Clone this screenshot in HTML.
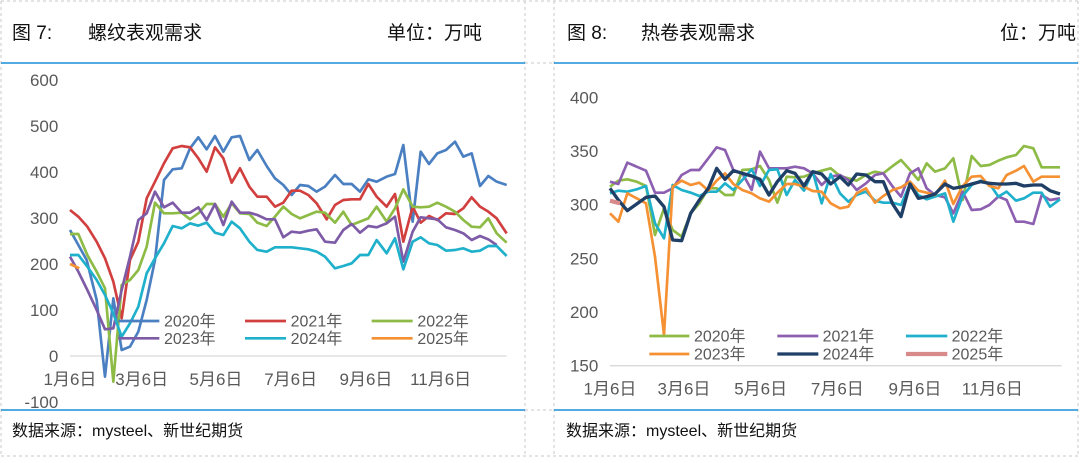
<!DOCTYPE html><html><head><meta charset="utf-8"><style>
body{margin:0;background:#fff;width:1080px;height:458px;overflow:hidden;font-family:"Liberation Sans","Noto Sans CJK SC",sans-serif}
svg text{font-family:"Liberation Sans","Noto Sans CJK SC",sans-serif}
</style></head><body>
<svg width="1080" height="458" viewBox="0 0 1080 458" xmlns="http://www.w3.org/2000/svg">
<g stroke="#c8c8c8" stroke-dasharray="3,3" fill="none" stroke-width="1">
<line x1="1" y1="1" x2="1079" y2="1"/><line x1="1" y1="456" x2="1079" y2="456"/>
<line x1="1" y1="1" x2="1" y2="456"/><line x1="1078" y1="1" x2="1078" y2="456"/>
<line x1="525" y1="1" x2="525" y2="456"/><line x1="554" y1="1" x2="554" y2="456"/>
<line x1="525" y1="63" x2="554" y2="63"/><line x1="525" y1="410" x2="554" y2="410"/>
</g>
<g stroke="#1a8fd8" stroke-width="1.5"><line x1="1" y1="63" x2="525" y2="63"/><line x1="554" y1="63" x2="1078" y2="63"/>
<line x1="1" y1="410" x2="525" y2="410"/><line x1="554" y1="410" x2="1078" y2="410"/></g>
<g font-size="19" fill="#111">
<text x="12" y="39">图 7:</text><text x="88" y="39">螺纹表观需求</text><text x="387" y="39">单位：万吨</text>
<text x="567" y="39">图 8:</text><text x="641" y="39">热卷表观需求</text><text x="1000" y="39">位：万吨</text></g>
<g font-size="16" fill="#111"><text x="12" y="436">数据来源：mysteel、新世纪期货</text><text x="566" y="436">数据来源：mysteel、新世纪期货</text></g>

<g transform="translate(0,60) scale(0.33333)">
<g font-size="51" fill="#595959" text-anchor="end">
<text x="175" y="78">600</text><text x="175" y="216">500</text><text x="175" y="354">400</text><text x="175" y="492">300</text><text x="175" y="630">200</text><text x="175" y="768">100</text><text x="175" y="906">0</text><text x="175" y="1044">-100</text></g>
<line x1="210" y1="888" x2="1520" y2="888" stroke="#d9d9d9" stroke-width="4"/>
<g font-size="51" fill="#595959" text-anchor="middle">
<text x="210" y="975">1月6日</text><text x="425" y="975">3月6日</text><text x="648" y="975">5月6日</text><text x="872" y="975">7月6日</text><text x="1098" y="975">9月6日</text><text x="1322" y="975">11月6日</text></g>
<g fill="none" stroke-width="8" stroke-linejoin="round">
<polyline stroke="#4a7fc1" points="210,510 260,600 290,720 315,950 340,715 365,870 390,860 415,815 440,720 465,600 492,360 518,328 545,325 570,265 595,232 620,268 645,228 670,275 695,232 720,228 748,300 772,270 800,318 825,355 850,375 875,405 900,375 925,378 950,395 975,380 1005,345 1030,372 1055,372 1080,395 1105,358 1130,365 1160,350 1185,342 1210,255 1238,485 1262,275 1287,312 1312,280 1338,270 1365,245 1390,290 1415,280 1440,378 1465,348 1490,365 1520,375"/>
<polyline stroke="#d13f3f" points="210,450 235,470 262,500 290,545 315,595 340,665 365,775 390,600 415,545 440,415 465,365 492,310 518,265 545,258 570,262 595,295 620,335 645,262 670,295 695,368 720,325 748,380 772,410 800,410 825,440 850,428 875,392 900,392 925,405 950,430 980,478 1005,435 1030,420 1055,418 1080,418 1105,372 1130,410 1160,440 1185,402 1210,545 1238,440 1262,488 1287,468 1312,480 1338,460 1365,462 1390,445 1415,412 1440,440 1465,455 1490,475 1520,520"/>
<polyline stroke="#8dbb45" points="210,522 235,522 262,585 290,635 315,685 340,965 365,675 390,660 415,630 440,560 465,428 492,460 518,460 545,458 570,478 595,460 620,432 645,432 670,470 695,430 720,460 748,462 772,488 800,498 825,470 850,440 875,462 900,475 925,465 950,455 975,458 1005,488 1030,455 1055,495 1080,485 1105,475 1130,440 1160,485 1185,445 1210,388 1238,440 1262,442 1287,440 1312,428 1338,440 1365,455 1390,480 1415,500 1440,502 1465,475 1490,520 1520,548"/>
<polyline stroke="#7d5ba6" points="210,590 235,635 262,690 290,750 315,808 340,805 365,690 390,590 415,480 440,460 465,395 492,442 518,428 545,458 570,458 595,442 620,480 645,432 670,495 695,425 720,458 748,458 772,465 800,478 825,478 850,532 875,515 900,518 925,512 950,508 975,545 1005,548 1030,510 1055,492 1080,518 1105,498 1130,502 1160,490 1185,470 1210,605 1238,515 1262,472 1287,475 1312,478 1338,502 1365,510 1390,520 1415,540 1440,528 1465,538 1490,555"/>
<polyline stroke="#1fb0cb" points="210,585 235,585 262,620 290,660 315,705 340,760 365,830 390,790 415,740 440,640 465,595 492,550 518,498 545,505 570,490 595,497 620,488 645,518 670,525 695,485 720,505 748,545 772,570 800,575 825,562 850,562 875,562 900,565 925,568 950,575 975,590 1005,625 1030,618 1055,610 1080,585 1105,585 1130,540 1160,580 1185,535 1210,628 1238,545 1262,532 1287,550 1312,555 1338,572 1365,570 1390,565 1415,575 1440,572 1465,558 1490,558 1520,588"/>
<polyline stroke="#f59132" points="210,612 238,625"/>
<line x1="355" y1="783" x2="478" y2="783" stroke="#4a7fc1"/><line x1="735" y1="783" x2="858" y2="783" stroke="#d13f3f"/><line x1="1115" y1="783" x2="1238" y2="783" stroke="#8dbb45"/>
<line x1="355" y1="835" x2="478" y2="835" stroke="#7d5ba6"/><line x1="735" y1="835" x2="858" y2="835" stroke="#1fb0cb"/><line x1="1115" y1="835" x2="1238" y2="835" stroke="#f59132"/>
</g>
<g font-size="48" fill="#595959">
<text x="492" y="800">2020年</text><text x="872" y="800">2021年</text><text x="1252" y="800">2022年</text>
<text x="492" y="852">2023年</text><text x="872" y="852">2024年</text><text x="1252" y="852">2025年</text></g>
</g>

<g transform="translate(540,60) scale(0.33333)">
<g font-size="51" fill="#595959" text-anchor="end">
<text x="175" y="130">400</text><text x="175" y="291">350</text><text x="175" y="452">300</text><text x="175" y="613">250</text><text x="175" y="774">200</text><text x="175" y="935">150</text></g>
<line x1="210" y1="917" x2="1565" y2="917" stroke="#d9d9d9" stroke-width="4"/>
<g font-size="51" fill="#595959" text-anchor="middle">
<text x="210" y="1003">1月6日</text><text x="432" y="1003">3月6日</text><text x="662" y="1003">5月6日</text><text x="892" y="1003">7月6日</text><text x="1125" y="1003">9月6日</text><text x="1357" y="1003">11月6日</text></g>
<g fill="none" stroke-width="8" stroke-linejoin="round">
<polyline stroke="#8dbb45" points="210,380 235,362 262,358 290,365 318,378 345,525 372,445 398,510 425,530 452,460 478,430 505,385 530,385 555,405 580,405 607,330 635,328 660,318 687,360 712,428 740,350 765,352 792,350 818,340 845,332 872,325 900,348 925,355 950,362 978,345 1005,335 1030,340 1058,318 1083,300 1110,330 1135,360 1160,310 1185,335 1215,325 1240,295 1268,420 1295,288 1322,318 1348,315 1375,302 1400,292 1428,285 1452,258 1480,265 1505,322 1530,322 1560,322"/>
<polyline stroke="#8c5fb0" points="210,365 235,372 262,308 290,320 318,332 345,398 372,398 398,385 425,345 452,330 478,330 505,295 530,262 555,270 580,330 607,340 635,390 660,275 687,325 712,325 740,325 765,320 792,325 818,340 845,375 872,350 900,345 925,360 950,390 978,370 1005,345 1030,340 1058,380 1083,410 1110,340 1135,325 1160,385 1185,405 1215,412 1240,460 1268,395 1295,450 1322,448 1348,435 1375,410 1400,420 1428,485 1452,485 1480,492 1505,405 1530,420 1560,415"/>
<polyline stroke="#1fb0cb" points="210,400 235,392 262,395 290,388 318,378 345,490 372,535 398,375 425,390 452,398 478,408 505,395 530,395 555,370 580,390 607,360 635,328 660,378 687,330 712,328 740,405 765,360 792,392 818,335 845,430 872,342 900,400 925,425 950,405 978,395 1005,422 1030,428 1058,428 1083,435 1110,372 1135,405 1160,418 1185,410 1215,400 1240,485 1268,408 1295,375 1322,362 1348,370 1375,410 1400,395 1428,422 1452,415 1480,398 1505,398 1530,440 1560,418"/>
<polyline stroke="#f59132" points="210,460 235,485 262,400 290,415 318,430 345,590 372,825 398,380 425,362 452,375 478,368 505,392 530,362 555,340 580,372 607,390 635,400 660,415 687,425 712,398 740,372 765,372 792,380 818,393 845,395 872,430 900,445 925,440 950,400 978,385 1005,428 1030,408 1058,390 1083,382 1110,365 1135,392 1160,398 1185,405 1215,362 1240,432 1268,378 1295,350 1322,348 1348,378 1375,385 1400,345 1428,332 1452,318 1480,365 1505,350 1530,350 1560,350"/>
<polyline stroke="#1f3f66" stroke-width="10" points="210,385 235,420 262,452 290,432 318,412 345,408 372,440 398,540 425,542 452,460 478,420 505,385 530,325 555,358 580,332 607,340 635,348 660,358 687,405 712,365 740,332 765,340 792,378 818,335 845,342 872,372 900,350 925,375 950,342 978,345 1005,365 1030,365 1058,432 1083,470 1110,372 1135,415 1160,410 1185,402 1215,372 1240,385 1268,380 1295,372 1322,365 1348,370 1375,372 1400,372 1428,370 1452,378 1480,375 1505,375 1530,392 1560,402"/>
<polyline stroke="#d88a8a" stroke-width="13" points="210,422 240,430"/>
<line x1="328" y1="828" x2="448" y2="828" stroke="#8dbb45"/><line x1="712" y1="828" x2="835" y2="828" stroke="#8c5fb0"/><line x1="1098" y1="828" x2="1222" y2="828" stroke="#1fb0cb"/>
<line x1="328" y1="882" x2="448" y2="882" stroke="#f59132"/><line x1="712" y1="882" x2="835" y2="882" stroke="#1f3f66" stroke-width="10"/><line x1="1098" y1="882" x2="1222" y2="882" stroke="#d88a8a" stroke-width="13"/>
</g>
<g font-size="48" fill="#595959">
<text x="462" y="845">2020年</text><text x="848" y="845">2021年</text><text x="1235" y="845">2022年</text>
<text x="462" y="899">2023年</text><text x="848" y="899">2024年</text><text x="1235" y="899">2025年</text></g>
</g>
</svg>
</body></html>
